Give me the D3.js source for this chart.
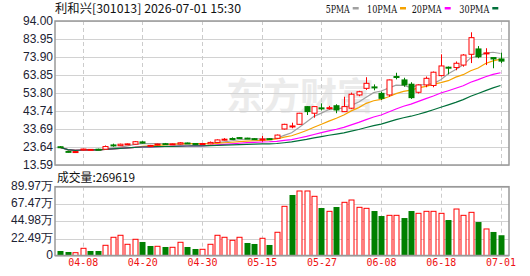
<!DOCTYPE html>
<html><head><meta charset="utf-8">
<script src="https://cdn.jsdelivr.net/npm/d3@7/dist/d3.min.js"></script>
<style>body{margin:0;background:#fff}svg{display:block}</style>
</head><body>
<svg id="c" width="530" height="276"></svg>
<script>
const dates = ["04-02","04-03","04-07","04-08","04-09","04-10","04-13","04-14","04-15","04-16","04-17","04-20","04-21","04-22","04-23","04-24","04-27","04-28","04-29","04-30","05-06","05-07","05-08","05-11","05-12","05-13","05-14","05-15","05-18","05-19","05-20","05-21","05-22","05-25","05-26","05-27","05-28","05-29","06-01","06-02","06-03","06-04","06-05","06-08","06-09","06-10","06-11","06-12","06-15","06-16","06-17","06-18","06-22","06-23","06-24","06-25","06-26","06-29","06-30","07-01"];
const open  = [23.8,21.2,20.9,21.9,21.9,22.4,22.4,24.8,24.4,25.0,25.2,26.5,24.0,24.8,25.5,25.0,25.3,25.9,25.6,25.2,25.4,26.2,27.6,28.4,28.9,28.6,28.3,27.6,28.3,28.5,33.7,35.0,36.3,46.2,42.5,45.5,45.3,46.7,43.4,45.3,52.7,56.4,57.2,53.6,52.7,63.0,61.1,58.7,54.2,58.3,58.0,63.5,68.2,68.0,69.4,75.4,78.4,76.0,73.6,72.8];
const high  = [24.1,21.6,21.3,22.6,22.5,22.7,24.5,25.5,25.5,25.6,27.0,26.9,24.8,25.5,25.9,25.6,26.4,26.1,25.8,25.8,26.7,27.9,28.6,29.0,29.2,28.8,28.6,29.8,28.6,30.6,36.6,37.2,42.7,46.5,46.4,48.0,46.6,47.5,51.7,54.0,55.0,62.6,58.6,54.5,61.3,65.1,62.3,59.8,58.6,63.0,65.8,75.4,68.6,71.4,75.5,87.7,80.0,78.8,73.6,76.3];
const low   = [23.2,20.6,20.7,21.7,21.7,22.0,22.3,23.8,24.2,24.8,25.0,25.6,23.8,24.6,24.8,24.8,25.1,25.4,25.1,25.0,25.2,26.0,27.2,27.8,28.3,28.1,27.8,26.6,27.6,28.1,33.4,34.1,36.0,41.5,40.0,44.0,44.5,42.5,43.2,44.8,52.0,55.5,55.3,49.9,51.7,61.4,57.3,50.5,53.5,57.0,57.0,63.0,64.2,66.5,68.5,70.5,73.2,69.4,67.6,70.5];
const close = [23.4,20.9,21.1,22.5,22.3,22.2,23.9,24.5,25.2,25.4,26.6,25.8,24.5,25.3,25.1,25.4,26.0,25.5,25.3,25.6,26.2,27.6,28.0,28.2,28.5,28.3,28.0,28.1,27.9,30.3,36.3,35.4,42.5,43.4,46.2,45.2,45.6,44.3,46.2,53.1,54.5,59.2,56.9,50.8,61.1,62.9,58.3,51.2,58.3,62.0,65.4,68.9,67.9,70.4,75.0,84.7,74.0,76.2,72.8,71.6];
// volume in 万
const volume = [6.5,5.2,4.3,10.0,6.5,6.5,13.9,24.3,26.9,15.2,21.7,18.2,13.0,12.6,11.7,11.3,17.8,11.7,9.1,8.7,15.2,26.9,24.3,20.4,24.3,16.9,15.6,23.0,14.3,30.8,64.5,79.2,84.4,84.4,77.5,62.3,58.0,63.6,69.7,72.7,63.2,61.9,58.4,51.9,52.8,52.8,49.3,58.4,55.4,58.0,58.0,55.4,46.7,61.0,52.8,56.7,44.1,35.1,31.2,26.96];
const priceTicks = [13.59,23.64,33.69,43.74,53.80,63.85,73.90,83.95,94.00];
const volTicks = [0,22.49,44.98,67.47,89.97];
const dateTicks = ["04-08","04-20","04-30","05-15","05-27","06-08","06-18","07-01"];
const maPeriods = [5,10,20,30];
const maColors = ["#a0a0a0","#f5a200","#ff00ff","#00703a"];
const title = "利和兴[301013] 2026-07-01 15:30";
const volTitle = "成交量:269619";

const svg = d3.select("#c");
const L = 55, R = 509, PT = 21, PB = 165, VT = 186.7, VB = 255.5;
const x = d3.scalePoint().domain(dates).range([60.3, 500.5]);
const y = d3.scaleLinear().domain([13.59, 94]).range([PB, PT]);
const yv = d3.scaleLinear().domain([0, 89.97]).range([256, VT]);
const RED = "#ff0000", GRN = "#008000";

// watermark
svg.append("text").attr("x", 226).attr("y", 110).attr("font-family", "Noto Sans CJK SC")
  .attr("font-weight", "bold").attr("font-size", 37).attr("fill", "#ebebeb").text("东方财富");

// gridlines
const g = svg.append("g");
g.selectAll(".hp").data(priceTicks).join("line")
  .attr("x1", L).attr("x2", R).attr("y1", d => Math.round(y(d)) + 0.5).attr("y2", d => Math.round(y(d)) + 0.5)
  .attr("stroke", "#d2d2d2");
g.selectAll(".hv").data(volTicks).join("line")
  .attr("x1", L).attr("x2", R).attr("y1", d => Math.round(yv(d)) + 0.5).attr("y2", d => Math.round(yv(d)) + 0.5)
  .attr("stroke", "#d2d2d2");
[[PT, PB], [VT, VB]].forEach(([a, b]) => {
  g.selectAll(null).data(dateTicks).join("line")
    .attr("x1", d => Math.round(x(d)) + 0.5).attr("x2", d => Math.round(x(d)) + 0.5)
    .attr("y1", a).attr("y2", b).attr("stroke", "#cccccc").attr("stroke-dasharray", "4,3");
});

// MAs
const data = dates.map((d, i) => ({d, i, o: open[i], h: high[i], l: low[i], c: close[i], v: volume[i]}));
maPeriods.forEach((p, k) => {
  const ma = data.map((e, i) => {
    const s = Math.max(0, i - p + 1);
    return {d: e.d, v: d3.mean(close.slice(s, i + 1))};
  });
  svg.append("path").datum(ma)
    .attr("d", d3.line().x(e => x(e.d)).y(e => y(e.v)))
    .attr("fill", "none").attr("stroke", maColors[k]).attr("stroke-width", 1.2);
});

// candles
const cg = svg.append("g");
data.forEach(e => {
  const up = e.c >= e.o;
  const col = up ? RED : GRN;
  const cx = Math.round(x(e.d)) + 0.5;
  cg.append("line").attr("x1", cx).attr("x2", cx).attr("y1", y(e.h)).attr("y2", y(e.l)).attr("stroke", col);
  const top = y(Math.max(e.o, e.c)), bot = y(Math.min(e.o, e.c));
  const hgt = Math.max(1, bot - top);
  if (up) {
    cg.append("rect").attr("x", cx - 2.5).attr("y", top).attr("width", 5).attr("height", hgt)
      .attr("fill", "#fff").attr("stroke", col).attr("stroke-width", 1);
  } else {
    cg.append("rect").attr("x", cx - 3).attr("y", top - 0.5).attr("width", 6).attr("height", hgt + 1)
      .attr("fill", col);
  }
});

// volume bars (colour by close vs previous close)
const vg = svg.append("g");
data.forEach((e, i) => {
  const up = i === 0 ? e.c >= e.o : e.c >= close[i - 1];
  const cx = Math.round(x(e.d)) + 0.5;
  const t = yv(e.v);
  if (up) {
    vg.append("rect").attr("x", cx - 2.5).attr("y", t).attr("width", 5).attr("height", VB - t)
      .attr("fill", "#fff").attr("stroke", RED);
  } else {
    vg.append("rect").attr("x", cx - 3).attr("y", t).attr("width", 6).attr("height", VB - t).attr("fill", GRN);
  }
});

// frames
svg.append("rect").attr("x", L).attr("y", PT).attr("width", R - L).attr("height", PB - PT)
  .attr("fill", "none").attr("stroke", "#999").attr("stroke-width", 1.5);
svg.append("rect").attr("x", L).attr("y", VT).attr("width", R - L).attr("height", VB - VT)
  .attr("fill", "none").attr("stroke", "#999").attr("stroke-width", 1.5);

// axes
const yAxis = d3.axisLeft(y).tickValues(priceTicks).tickFormat(d3.format(".2f")).tickSize(0).tickPadding(2);
const ay = svg.append("g").attr("transform", `translate(${L},0)`).call(yAxis);
const yvAxis = d3.axisLeft(yv).tickValues(volTicks).tickFormat(d => d === 0 ? "0" : d3.format(".2f")(d) + "万").tickSize(0).tickPadding(2);
const av = svg.append("g").attr("transform", `translate(${L},-1.5)`).call(yvAxis);
const xAxis = d3.axisBottom(x).tickValues(dateTicks).tickSize(0).tickPadding(0);
const ax = svg.append("g").attr("transform", `translate(0,${VB + 3})`).call(xAxis);
[ay, av, ax].forEach(a => {
  a.select(".domain").remove();
  a.selectAll("text").attr("font-family", "Liberation Sans, Arial").attr("font-size", 12).attr("fill", "#1c2233");
});
ax.selectAll("text").attr("fill", "#ee1111").attr("font-family", "DejaVu Sans Mono").attr("font-size", 11)
  .attr("textLength", 30).attr("lengthAdjust", "spacingAndGlyphs");

// titles
svg.append("text").attr("x", 55).attr("y", 13).attr("font-family", "Noto Sans CJK SC").attr("font-size", 12)
  .attr("fill", "#111").attr("textLength", 186).attr("lengthAdjust", "spacingAndGlyphs").text(title);
svg.append("text").attr("x", 57).attr("y", 181.5).attr("font-family", "Noto Sans CJK SC").attr("font-size", 12)
  .attr("fill", "#111").attr("textLength", 78).attr("lengthAdjust", "spacingAndGlyphs").text(volTitle);

// legend
const legX = [325.7, 367, 411.7, 459.3];
maPeriods.forEach((p, k) => {
  const label = p + "PMA";
  const w = label.length * 6;
  svg.append("text").attr("x", legX[k]).attr("y", 12.5).attr("font-family", "DejaVu Serif, Liberation Serif")
    .attr("font-size", 11).attr("fill", "#111").attr("textLength", w).attr("lengthAdjust", "spacingAndGlyphs").text(label);
  svg.append("rect").attr("x", legX[k] + w + 3).attr("y", 7).attr("width", 6).attr("height", 2.5).attr("fill", maColors[k]);
});
</script>
</body></html>
